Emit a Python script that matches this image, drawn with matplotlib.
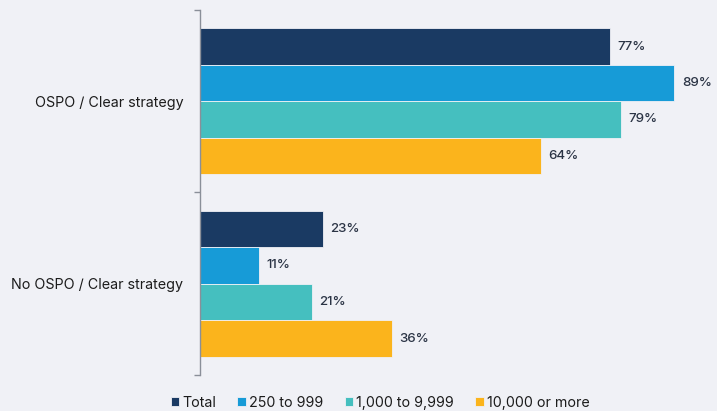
import matplotlib.pyplot as plt
import numpy as np

categories = ["OSPO / Clear strategy", "No OSPO / Clear strategy"]
series = ["Total", "250 to 999", "1,000 to 9,999", "10,000 or more"]
values = [
    [77, 23],
    [89, 11],
    [79, 21],
    [64, 36],
]
colors = ["#1a3a63", "#179bd7", "#45bfbf", "#fbb41c"]

bg = "#f0f1f6"
text_color = "#2b3445"
plt.rcParams["font.family"] = ["Inter", "DejaVu Sans"]

fig = plt.figure(figsize=(7.17, 4.11), dpi=100, facecolor=bg)
ax = fig.add_axes([200 / 717, 1 - 375 / 411, 517 / 717, 365 / 411])
ax.set_facecolor(bg)

y = np.arange(len(categories))
h = 0.2
for i, (name, vals) in enumerate(zip(series, values)):
    pos = y - 0.3 + i * h
    ax.barh(pos, vals, height=h, color=colors[i], edgecolor=bg, linewidth=0.6,
            label=name)
    for p, v in zip(pos, vals):
        ax.text(v + 1.4, p, f"{v}%", va="center", ha="left", fontsize=9.6,
                color=text_color, fontweight="medium")

ax.set_xlim(0, 97)
ax.set_ylim(1.5, -0.5)
ax.set_xticks([])
ax.set_yticks(y)
ax.set_yticklabels(categories, fontsize=10.3, color="#1c1c1c")
ax.set_yticks([-0.5, 0.5, 1.5], minor=True)
ax.tick_params(axis="y", which="major", length=0, pad=12)
ax.tick_params(axis="y", which="minor", length=4, color="#8a8f99", width=1)
for s in ["top", "right", "bottom"]:
    ax.spines[s].set_visible(False)
ax.spines["left"].set_color("#8a8f99")
ax.spines["left"].set_linewidth(1)

leg = fig.legend(loc="center", bbox_to_anchor=(380 / 717, 1 - 403 / 411), ncol=4,
                 frameon=False, fontsize=10.3, handlelength=0.6, handleheight=0.6,
                 handletextpad=0.2, columnspacing=1.5)
for t in leg.get_texts():
    t.set_color("#1c1c1c")

fig.savefig("out.png", dpi=100, facecolor=bg)
